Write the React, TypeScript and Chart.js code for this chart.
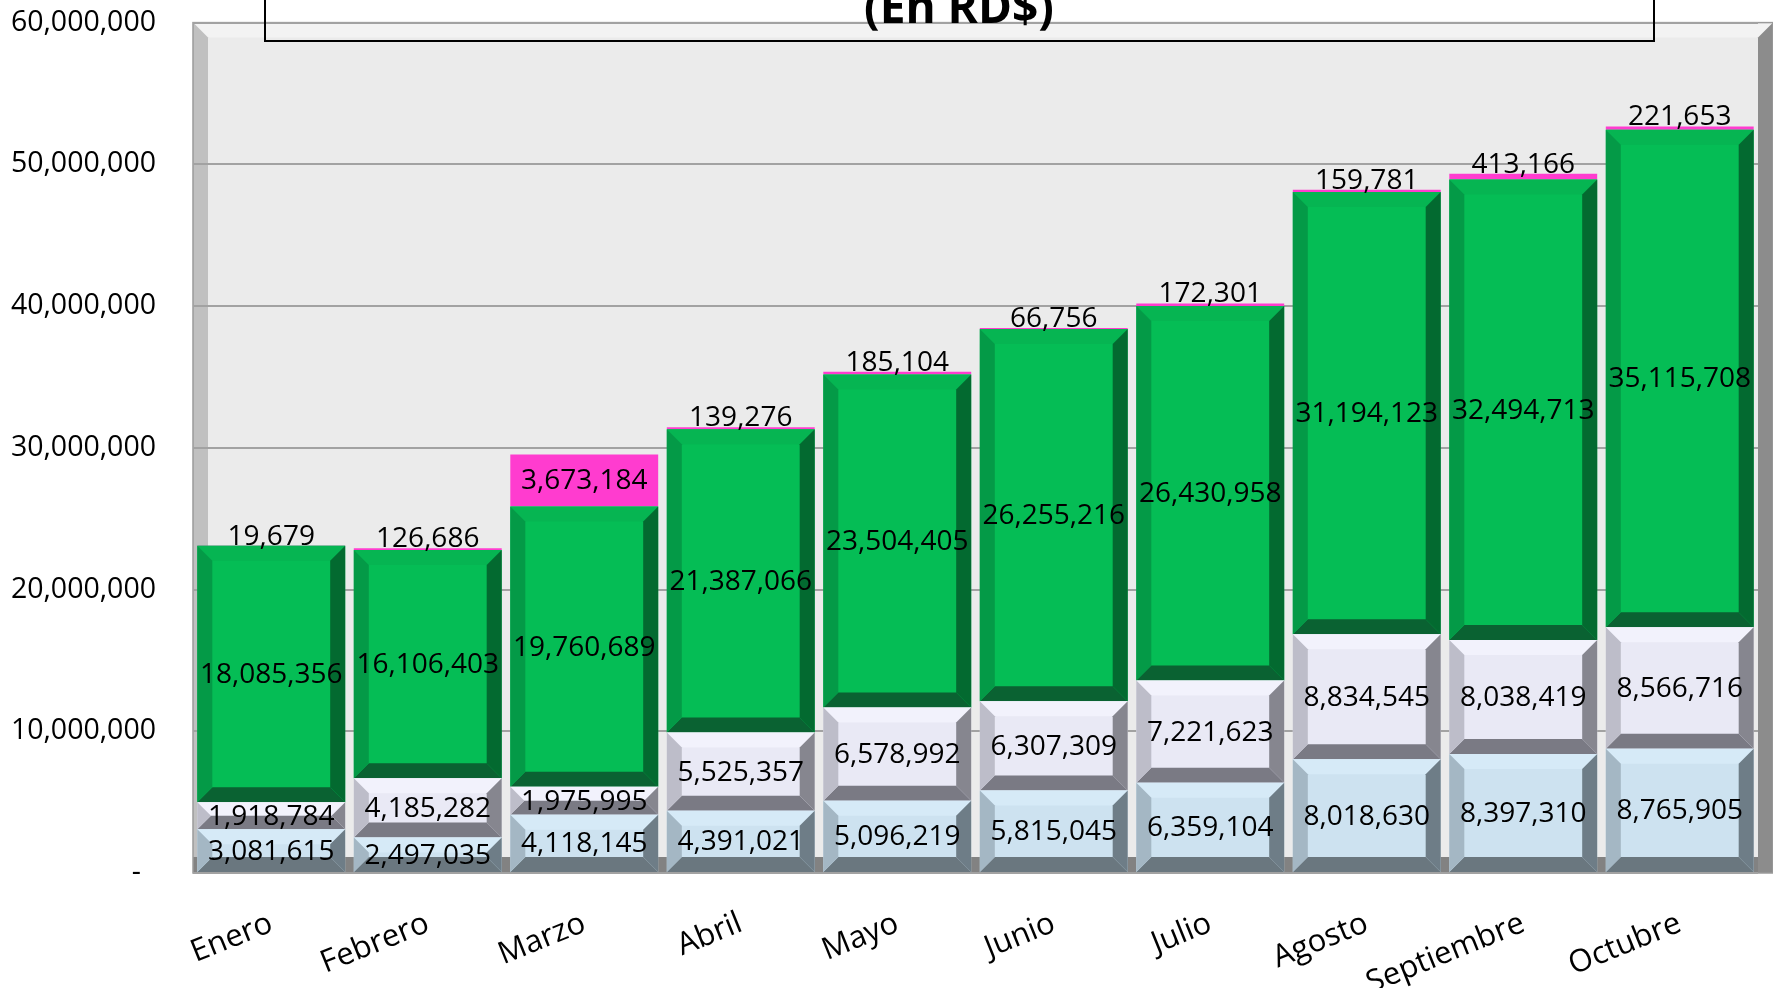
import React, { useEffect, useRef } from 'react';
import { Chart, registerables } from 'chart.js';

Chart.register(...registerables);

// ---- data ----
const months = ['Enero', 'Febrero', 'Marzo', 'Abril', 'Mayo', 'Junio', 'Julio', 'Agosto', 'Septiembre', 'Octubre'];
const serieCeleste = [3081615, 2497035, 4118145, 4391021, 5096219, 5815045, 6359104, 8018630, 8397310, 8765905];
const serieLavanda = [1918784, 4185282, 1975995, 5525357, 6578992, 6307309, 7221623, 8834545, 8038419, 8566716];
const serieVerde = [18085356, 16106403, 19760689, 21387066, 23504405, 26255216, 26430958, 31194123, 32494713, 35115708];
const serieMagenta = [19679, 126686, 3673184, 139276, 185104, 66756, 172301, 159781, 413166, 221653];
const yTickValues = [0, 10000000, 20000000, 30000000, 40000000, 50000000, 60000000];
const titleText = '(En RD$)';

// ---- styles ----
const FONT = '"Open Sans", "Liberation Sans", sans-serif';
type Bevel = { top: string; left: string; right: string; bottom: string } | null;
const faces = ['#cde2f0', '#e9e9f5', '#05bd55', '#ff3ccf'];
const bevels: Bevel[] = [
  { top: '#d6eaf7', left: '#a4b7c4', right: '#6e7d87', bottom: '#6a777f' },
  { top: '#f2f2fc', left: '#bdbdc9', right: '#86868f', bottom: '#7a7a84' },
  { top: '#06b552', left: '#049a47', right: '#036a30', bottom: '#0a6232' },
  null,
];
const BEVEL = 15;
const WALL = 15;

const fmt = (v: number) => v.toLocaleString('en-US');

const backdropPlugin = {
  id: 'backdrop',
  beforeDraw(chart: any) {
    const { ctx, chartArea: a } = chart;
    ctx.save();
    ctx.fillStyle = '#ebebeb';
    ctx.fillRect(a.left, a.top, a.right - a.left, a.bottom - a.top);
    ctx.fillStyle = '#f3f3f3';
    ctx.beginPath();
    ctx.moveTo(a.left, a.top);
    ctx.lineTo(a.right + WALL, a.top);
    ctx.lineTo(a.right, a.top + WALL);
    ctx.lineTo(a.left + WALL, a.top + WALL);
    ctx.closePath();
    ctx.fill();
    ctx.fillStyle = '#c0c0c0';
    ctx.beginPath();
    ctx.moveTo(a.left, a.top);
    ctx.lineTo(a.left + WALL, a.top + WALL);
    ctx.lineTo(a.left + WALL, a.bottom);
    ctx.lineTo(a.left, a.bottom);
    ctx.closePath();
    ctx.fill();
    ctx.fillStyle = '#8c8c8c';
    ctx.beginPath();
    ctx.moveTo(a.right, a.top + WALL);
    ctx.lineTo(a.right + WALL, a.top);
    ctx.lineTo(a.right + WALL, a.bottom);
    ctx.lineTo(a.right, a.bottom);
    ctx.closePath();
    ctx.fill();
    ctx.fillStyle = '#828282';
    ctx.fillRect(a.left, a.bottom - 16, a.right - a.left, 16);
    ctx.strokeStyle = '#9a9a9a';
    ctx.lineWidth = 1.5;
    ctx.strokeRect(a.left, a.top, a.right + WALL - a.left, a.bottom - a.top);
    ctx.restore();
  },
};

const bevelPlugin = {
  id: 'bevel',
  afterDatasetDraw(chart: any, args: any) {
    const bv = bevels[args.index];
    if (!bv) return;
    const ctx = chart.ctx;
    ctx.save();
    args.meta.data.forEach((el: any) => {
      const p = el.getProps(['x', 'y', 'base', 'width'], true);
      const L = p.x - p.width / 2;
      const R = p.x + p.width / 2;
      const T = Math.min(p.y, p.base);
      const B = Math.max(p.y, p.base);
      const b = Math.min(BEVEL, (B - T) / 2, p.width / 2);
      const poly = (pts: number[][], c: string) => {
        ctx.fillStyle = c;
        ctx.beginPath();
        ctx.moveTo(pts[0][0], pts[0][1]);
        for (let i = 1; i < pts.length; i++) ctx.lineTo(pts[i][0], pts[i][1]);
        ctx.closePath();
        ctx.fill();
      };
      poly([[L, T], [R, T], [R - b, T + b], [L + b, T + b]], bv.top);
      poly([[L, B], [R, B], [R - b, B - b], [L + b, B - b]], bv.bottom);
      poly([[L, T], [L + b, T + b], [L + b, B - b], [L, B]], bv.left);
      poly([[R, T], [R - b, T + b], [R - b, B - b], [R, B]], bv.right);
    });
    ctx.restore();
  },
};

const labelPlugin = {
  id: 'valueLabels',
  afterDatasetsDraw(chart: any) {
    const ctx = chart.ctx;
    ctx.save();
    ctx.font = `28px ${FONT}`;
    ctx.fillStyle = '#000';
    ctx.textAlign = 'center';
    chart.data.datasets.forEach((ds: any, i: number) => {
      const meta = chart.getDatasetMeta(i);
      meta.data.forEach((el: any, j: number) => {
        const v = ds.data[j] as number;
        const p = el.getProps(['x', 'y', 'base'], true);
        const T = Math.min(p.y, p.base);
        const B = Math.max(p.y, p.base);
        if (B - T < 24 && i === chart.data.datasets.length - 1) {
          ctx.textBaseline = 'alphabetic';
          ctx.fillText(fmt(v), p.x, T - 1);
        } else {
          ctx.textBaseline = 'middle';
          ctx.fillText(fmt(v), p.x, (T + B) / 2 + 1);
        }
      });
    });
    // value axis labels
    const ys = chart.scales.y;
    ctx.font = `28.5px ${FONT}`;
    ctx.textAlign = 'right';
    ctx.textBaseline = 'middle';
    ys.ticks.forEach((t: any) => {
      const py = ys.getPixelForValue(t.value);
      if (t.value === 0) ctx.fillText('-', 141, py);
      else ctx.fillText(fmt(t.value), 156, py);
    });
    ctx.restore();
  },
};

const titlePlugin = {
  id: 'titleBox',
  afterDraw(chart: any) {
    const ctx = chart.ctx;
    ctx.save();
    ctx.strokeStyle = '#000';
    ctx.lineWidth = 2;
    ctx.strokeRect(265, -10, 1654 - 265, 51);
    ctx.font = `bold 46px ${FONT}`;
    ctx.fillStyle = '#000';
    ctx.textAlign = 'center';
    ctx.textBaseline = 'alphabetic';
    ctx.fillText(titleText, 959, 23);
    ctx.restore();
  },
};

export default function App() {
  const ref = useRef<HTMLCanvasElement | null>(null);
  useEffect(() => {
    if (!ref.current) return;
    const series = [serieCeleste, serieLavanda, serieVerde, serieMagenta];
    const chart: any = new Chart(ref.current, {
      type: 'bar',
      data: {
        labels: months,
        datasets: series.map((s, i) => ({
          label: `s${i}`,
          data: s,
          backgroundColor: faces[i],
          borderWidth: 0,
          stack: 'a',
          barPercentage: 0.945,
          categoryPercentage: 1,
        })),
      },
      options: {
        responsive: false,
        maintainAspectRatio: false,
        animation: false,
        layout: { padding: { top: 22.6, right: WALL, left: 0, bottom: 0 } },
        plugins: { legend: { display: false }, tooltip: { enabled: false }, title: { display: false } },
        scales: {
          x: {
            stacked: true,
            grid: { display: false },
            border: { display: false },
            ticks: {
              font: { family: FONT, size: 31 },
              color: '#000',
              minRotation: 22,
              maxRotation: 22,
              padding: 24,
              autoSkip: false,
            },
            afterFit: (s: any) => { s.height = 115; },
          },
          y: {
            stacked: true,
            min: yTickValues[0],
            max: yTickValues[yTickValues.length - 1],
            afterBuildTicks: (s: any) => { s.ticks = yTickValues.map((v) => ({ value: v })); },
            grid: { color: '#a2a2a2', lineWidth: 2, drawTicks: false },
            border: { display: false },
            ticks: { display: false },
            afterFit: (s: any) => { s.width = 193; },
          },
        },
      },
      plugins: [backdropPlugin, bevelPlugin, labelPlugin, titlePlugin],
    });
    return () => chart.destroy();
  }, []);
  return (
    <div style={{ position: 'fixed', left: 0, top: 0, width: 1773, height: 988, background: '#fff' }}>
      <canvas ref={ref} width={1773} height={988} style={{ display: 'block' }} />
    </div>
  );
}
